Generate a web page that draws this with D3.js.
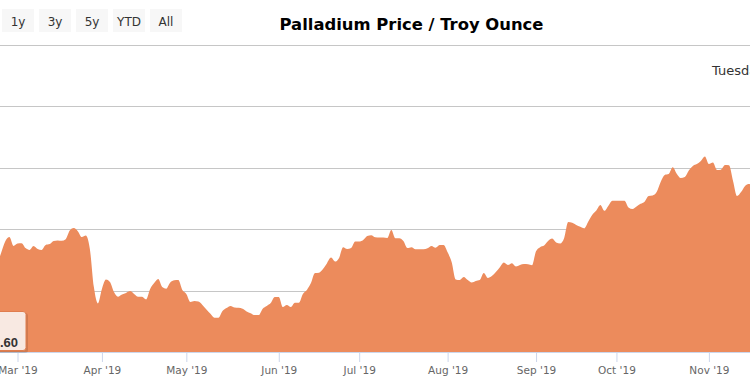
<!DOCTYPE html>
<html><head><meta charset="utf-8">
<script src="https://cdn.jsdelivr.net/npm/d3@7"></script>
<style>html,body{margin:0;padding:0;background:#fff;overflow:hidden}svg{display:block}</style>
</head><body>
<svg id="c" width="750" height="384"></svg>
<script>
// ---- data ----
const title = "Palladium Price / Troy Ounce";
const rangeButtons = ["1y", "3y", "5y", "YTD", "All"];
const startDate = "2019-02-22";
const holidays = ["2019-04-19", "2019-07-04", "2019-09-02"];
// USD per troy ounce, one value per trading day from startDate
const prices = [
 1486,1525,1561,1574,1545,
 1553,1554,1538,1532,1545,1535,1532,1548,1551,1561,1563,1562,1567,1595,1603,1593,1574,1579,1535,1411,1358,
 1405,1436,1428,1395,1380,1387,1392,1398,1389,1380,1380,1371,1405,1424,1437,1411,1406,1426,1433,1434,1402,
 1389,1363,1366,1364,1353,1338,1324,1311,1311,1333,1343,1350,1345,1344,1341,1332,1326,1320,1320,1341,1350,1359,1379,
 1379,1346,1353,1346,1360,1360,1389,1402,1424,1457,1458,1470,1489,1507,1494,1506,1541,1535,1538,1559,
 1559,1564,1577,1580,1573,1572,1572,1571,1597,1570,1570,1561,1538,1541,1534,1534,1534,1537,1545,1539,1548,1548,
 1524,1493,1436,1434,1444,1434,1426,1431,1434,1457,1441,1447,1460,1476,1491,1483,1489,1478,1483,1486,1485,1482,
 1528,1541,1546,1561,1569,1556,1553,1571,1623,1620,1613,1607,1602,1624,1646,1660,1678,1659,1676,1692,
 1692,1692,1692,1670,1665,1673,1682,1689,1707,1709,1720,1753,1776,1779,1801,1780,1766,1769,1790,1805,1811,1821,1836,
 1811,1816,1792,1793,1808,1807,1756,1707,1720,1740,1746,1740,1733
];
const priceLabel = ".60";
const dayLabel = "Tuesday";
const yTicks = [1200, 1400, 1600, 1800, 2000, 2200];

// ---- trading dates ----
const parse = d3.timeParse("%Y-%m-%d");
const fmtKey = d3.timeFormat("%Y-%m-%d");
const dates = [];
{
  let d = parse(startDate);
  while (dates.length < prices.length) {
    const wd = d.getDay();
    if (wd !== 0 && wd !== 6 && !holidays.includes(fmtKey(d))) dates.push(new Date(d));
    d = d3.timeDay.offset(d, 1);
  }
}
const data = prices.map((v, i) => ({i, date: dates[i], v}));

// ---- layout ----
const svg = d3.select("#c");
const plotTop = 44.5, plotBottom = 352, plotLeft = 0, plotRight = 750;
const idxMar1 = dates.findIndex(d => d.getMonth() === 2);
const idxNov1 = dates.findIndex(d => d.getMonth() === 10);
const x = d3.scaleLinear().domain([idxMar1, idxNov1]).range([17.5, 708.9]);
const y = d3.scaleLinear().domain([1200, 2200]).range([plotBottom, plotTop]);

// gridlines
svg.append("g").selectAll("line").data(yTicks.slice(1)).join("line")
  .attr("x1", plotLeft).attr("x2", plotRight)
  .attr("y1", d => Math.round(y(d)) + 0.5).attr("y2", d => Math.round(y(d)) + 0.5)
  .attr("stroke", "#c6c6c6").attr("stroke-width", 1);

// area
svg.append("defs").append("clipPath").attr("id", "clip")
  .append("rect").attr("x", plotLeft).attr("y", plotTop).attr("width", plotRight - plotLeft).attr("height", plotBottom - plotTop);
const area = d3.area().x(d => x(d.i)).y0(y(1200)).y1(d => y(d.v)).curve(d3.curveMonotoneX);
svg.append("path").datum(data).attr("clip-path", "url(#clip)")
  .attr("d", area).attr("fill", "#ec8b5c");

// x axis with monthly ticks at first trading day
const monthStarts = [];
data.forEach((d, k) => {
  if (k > 0 && d.date.getMonth() !== data[k - 1].date.getMonth()) monthStarts.push(d.i);
});
const fmtMonth = d3.timeFormat("%b '%y");
const xAxis = d3.axisBottom(x).tickValues(monthStarts).tickFormat(i => fmtMonth(dates[i])).tickSize(10).tickPadding(5);
const gx = svg.append("g").attr("transform", `translate(0,${plotBottom})`).call(xAxis);
gx.select(".domain").attr("stroke", "#ccd6eb").attr("d", `M${plotLeft},0.5H${plotRight}`);
gx.selectAll(".tick line").attr("stroke", "#ccd6eb");
gx.selectAll(".tick text").attr("fill", "#666").attr("font-size", 10.5)
  .attr("font-family", "'DejaVu Sans', Verdana, sans-serif");

// title
svg.append("text").attr("x", 411.5).attr("y", 29.5).attr("text-anchor", "middle")
  .attr("font-family", "'DejaVu Sans', Verdana, sans-serif").attr("font-weight", "bold")
  .attr("font-size", 16.4).attr("fill", "#000").text(title);

// range buttons
const bw = 32, bgap = 5;
const gb = svg.append("g").selectAll("g").data(rangeButtons).join("g")
  .attr("transform", (d, k) => `translate(${2 + k * (bw + bgap)},9)`);
gb.append("rect").attr("width", bw).attr("height", 23).attr("fill", "#f7f7f7");
gb.append("text").attr("x", bw / 2).attr("y", 16.5).attr("text-anchor", "middle")
  .attr("font-family", "'DejaVu Sans', Verdana, sans-serif").attr("font-size", 12)
  .attr("fill", "#333").text(d => d);

// day label (top right, cut off by the frame as in the reference)
svg.append("text").attr("x", 712).attr("y", 75)
  .attr("font-family", "'DejaVu Sans', Verdana, sans-serif").attr("font-size", 13)
  .attr("fill", "#333").text(dayLabel);

// price tooltip at bottom left
const tip = svg.append("g");
tip.append("rect").attr("x", -8).attr("y", 313).attr("width", 36).attr("height", 40).attr("rx", 3)
  .attr("fill", "rgba(0,0,0,0.12)");
tip.append("rect").attr("x", -10).attr("y", 311.5).attr("width", 36).attr("height", 39).attr("rx", 3)
  .attr("fill", "#f8e9e2").attr("stroke", "#e07d4f").attr("stroke-width", 1);
tip.append("text").attr("x", 18).attr("y", 346.5).attr("text-anchor", "end")
  .attr("font-family", "'Liberation Sans', Arial, sans-serif").attr("font-weight", "bold")
  .attr("font-size", 13).attr("fill", "#333").text(priceLabel);
</script>
</body></html>
